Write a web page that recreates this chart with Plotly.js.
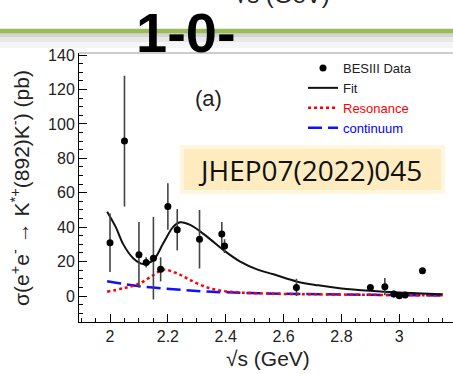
<!DOCTYPE html>
<html>
<head>
<meta charset="utf-8">
<script src="https://cdn.plot.ly/plotly-3.0.1.min.js"></script>
<style>html,body{margin:0;padding:0;background:#fff;}#chart{width:453px;height:374px;}</style>
</head>
<body>
<div id="chart"></div>
<script>
// ---- data ----
const dataX   = [2.0, 2.05, 2.1, 2.125, 2.15, 2.175, 2.2, 2.2324, 2.3094, 2.3864, 2.396, 2.6444, 2.9, 2.95, 2.981, 3.0, 3.02, 3.08];
const dataY   = [31, 90, 24, 19.5, 22, 15.5, 52, 38.5, 33, 36, 29, 5, 5, 5.4, 1.2, 0.2, 0.6, 14.7];
const dataErr = [17, 38, 19, 3, 24, 7, 13.5, 12, 17, 7, 4, 5, 1, 5, 2, 1.5, 1, 0.8];

const fitX = [1.99, 2.02, 2.046, 2.08, 2.115, 2.15, 2.184, 2.219, 2.242, 2.277, 2.335, 2.392, 2.45, 2.508, 2.565, 2.648, 2.72, 2.8, 2.9, 3.0, 3.15];
const fitY = [49, 40, 30, 22, 18.6, 21, 30.6, 40.3, 42.8, 41.3, 34.5, 26.7, 20, 15.5, 12.6, 8.3, 6.2, 4.4, 3.0, 2.0, 1.0];

const resX = [1.99, 2.046, 2.104, 2.15, 2.184, 2.231, 2.277, 2.335, 2.392, 2.45, 2.55, 2.7, 2.9, 3.15];
const resY = [2.5, 4.5, 7.4, 12.2, 15.3, 13.2, 9.3, 5, 2.9, 2, 1.4, 1.0, 0.7, 0.4];

const conX = [1.99, 2.104, 2.219, 2.335, 2.484, 2.65, 2.9, 3.15];
const conY = [8.6, 5.6, 3.9, 2.6, 1.7, 1.2, 0.7, 0.3];

const legendNames = ['BESIII Data', 'Fit', 'Resonance', 'continuum'];
const xTitle = '√s (GeV)';
const yTitle = 'σ(e<sup>+</sup>e<sup>-</sup> → K<sup>*+</sup>(892)K<sup>-</sup>) (pb)';
const panelLabel = '(a)';
const refLabel = 'JHEP07(2022)045';
const slideLabel = '1-0-';

// ---- geometry helpers (pixel -> paper) ----
const W = 453, H = 374, L = 79, R = 0, T = 53, B = 52;
const PW = W - L - R, PH = H - T - B;
const px = x => (x - L) / PW;
const py = y => (H - B - y) / PH;

const FONT = 'Liberation Sans, Arial, sans-serif';

const traces = [
  {x: conX, y: conY, mode: 'lines', name: '<span style="color:#0000ff">' + legendNames[3] + '</span>',
   line: {color: '#1010ff', width: 2.5, dash: '14px,6px', shape: 'spline'}, legendrank: 4},
  {x: resX, y: resY, mode: 'lines', name: '<span style="color:#ff0000">' + legendNames[2] + '</span>',
   line: {color: '#ff0000', width: 2.5, dash: 'dot', shape: 'spline'}, legendrank: 3},
  {x: fitX, y: fitY, mode: 'lines', name: legendNames[1],
   line: {color: '#111', width: 2, shape: 'spline'}, legendrank: 2},
  {x: dataX, y: dataY, mode: 'markers', name: legendNames[0],
   marker: {color: '#000', size: 7},
   error_y: {type: 'data', array: dataErr, visible: true, color: '#444', thickness: 1.6, width: 0},
   legendrank: 1}
];

const shapes = [
  // gray shadow under green bar
  {type:'rect', xref:'paper', yref:'paper', x0:px(0), x1:px(W), y0:py(37), y1:py(33), fillcolor:'#d4d4d4', line:{width:0}, layer:'below'},
  {type:'rect', xref:'paper', yref:'paper', x0:px(0), x1:px(W), y0:py(42), y1:py(37), fillcolor:'#e8e8e8', line:{width:0}, layer:'below'},
  {type:'rect', xref:'paper', yref:'paper', x0:px(0), x1:px(W), y0:py(48), y1:py(42), fillcolor:'#f5f5f5', line:{width:0}, layer:'below'},
  // green bar
  {type:'line', xref:'paper', yref:'paper', x0:px(0), x1:px(W), y0:py(31), y1:py(31), line:{color:'#9bbb59', width:4.5}},
  // top frame line
  {type:'line', xref:'paper', yref:'paper', x0:0, x1:1, y0:1, y1:1, line:{color:'#9a9a9a', width:1}},
  // JHEP box glow + box
  {type:'rect', xref:'paper', yref:'paper', x0:px(180), x1:px(445), y0:py(194), y1:py(145), fillcolor:'#fff6df', line:{width:0}, layer:'below'},
  {type:'rect', xref:'paper', yref:'paper', x0:px(184), x1:px(441), y0:py(190), y1:py(149), fillcolor:'#feecc0', line:{width:0}, layer:'below'}
];

const annotations = [
  {text: slideLabel, xref:'paper', yref:'paper', x: px(186), y: py(32), xanchor:'center', yanchor:'middle',
   showarrow:false, font:{family: FONT, size: 56, color:'#000', weight: 'bold'}},
  {text: xTitle, xref:'paper', yref:'paper', x: px(282), y: py(10), xanchor:'center', yanchor:'bottom',
   showarrow:false, font:{family: FONT, size: 24, color:'#222'}},
  {text: panelLabel, xref:'paper', yref:'paper', x: px(208), y: py(98), xanchor:'center', yanchor:'middle',
   showarrow:false, font:{family: FONT, size: 22, color:'#222'}},
  {text: refLabel, xref:'paper', yref:'paper', x: px(310), y: py(170), xanchor:'center', yanchor:'middle',
   showarrow:false, font:{family: 'Open Sans, sans-serif', size: 28, color:'#111'}},
  {text: xTitle, xref:'paper', yref:'paper', x: px(268), y: py(358), xanchor:'center', yanchor:'middle',
   showarrow:false, font:{family: FONT, size: 21, color:'#222'}},
  {text: yTitle, xref:'paper', yref:'paper', x: px(20), y: py(188), xanchor:'center', yanchor:'middle',
   textangle: -90, showarrow:false, font:{family: FONT, size: 21, color:'#222'}}
];

const layout = {
  width: W, height: H,
  margin: {l: L, r: R, t: T, b: B, pad: 0},
  paper_bgcolor: '#fff', plot_bgcolor: '#fff',
  font: {family: FONT, color: '#222', size: 16},
  showlegend: true,
  legend: {x: px(303), y: py(53), xanchor: 'left', yanchor: 'top', bgcolor: 'rgba(0,0,0,0)',
           font: {family: FONT, size: 13, color: '#222'}, traceorder: 'normal', itemwidth: 30},
  xaxis: {range: [1.8928, 3.1856], showgrid: false, zeroline: false, showline: true, linecolor: '#000', linewidth: 1,
          ticks: 'inside', ticklen: 8, tickcolor: '#000', tickwidth: 1, dtick: 0.2, tick0: 2,
          minor: {dtick: 0.05, ticklen: 4, tickcolor: '#000', ticks: 'inside'},
          tickfont: {family: FONT, size: 16, color: '#222'}, fixedrange: true},
  yaxis: {range: [-15.1, 141.2], showgrid: false, zeroline: false, showline: true, linecolor: '#000', linewidth: 1,
          ticks: 'inside', ticklen: 8, tickcolor: '#000', tickwidth: 1, dtick: 20, tick0: 0,
          minor: {dtick: 5, ticklen: 4, tickcolor: '#000', ticks: 'inside'},
          tickfont: {family: FONT, size: 16, color: '#222'}, fixedrange: true},
  shapes: shapes,
  annotations: annotations
};

Plotly.newPlot('chart', traces, layout, {displayModeBar: false, staticPlot: true});
</script>
</body>
</html>
